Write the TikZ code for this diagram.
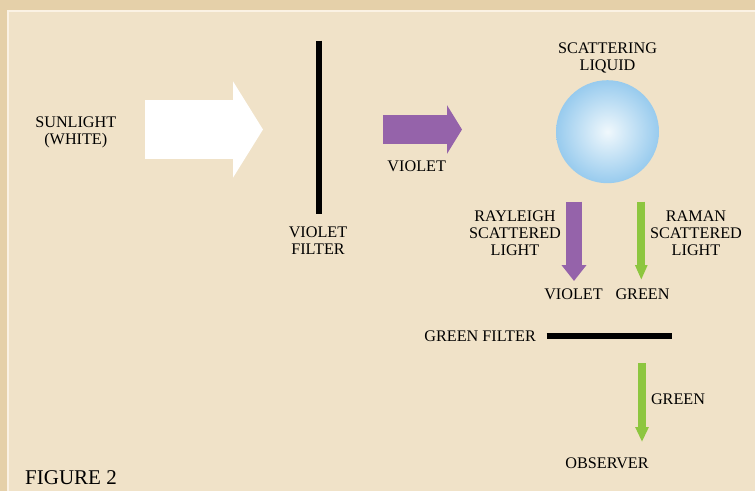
\documentclass[tikz,border=0pt]{standalone}
\usepackage{fontspec}
\setmainfont{Liberation Serif}
\usetikzlibrary{positioning, arrows.meta, calc}
\definecolor{frameTan}{RGB}{229,208,169}
\definecolor{paperTan}{RGB}{240,226,200}
\definecolor{paperEdge}{RGB}{251,242,228}
\definecolor{violetBeam}{RGB}{149,99,170}
\definecolor{greenBeam}{RGB}{141,198,63}
\definecolor{liquidEdge}{RGB}{152,203,238}
\definecolor{liquidCore}{RGB}{240,248,252}
\tikzset{lbl/.style={align=center, inner sep=0pt, text=black, font=\fontsize{16.2}{17}\selectfont}}
\tikzset{filterbar/.style={draw=black, line cap=butt}}
\tikzset{beam/.style args={#1|#2|#3|#4}{draw=#1, line width=#2, line cap=butt, -{Triangle[width=#3, length=#4]}, #1}}
\begin{document}
\begin{tikzpicture}[x=1pt, y=-1pt]
			\useasboundingbox (0,0) rectangle (755,491);
			\fill[frameTan] (0,0) rectangle (755,491);
			\fill[paperTan] (8,11) rectangle (755,491);
			\draw[paperEdge, line width=1.6] (8,491) -- (8,11) -- (755,11);

			% light source
			\node[lbl] (sun) at (75.8,132.5) {SUNLIGHT\\(WHITE)};
			\coordinate (sunA) at (145,129.5);
			\coordinate (sunB) at (263,129.5);
			\draw[beam={white|58.5pt|95pt|30pt}] (sunA) -- (sunB);

			% violet filter
			\coordinate (vfTop) at (318.5,40.7);
			\coordinate (vfBot) at (318.5,214);
			\draw[filterbar, line width=6] (vfTop) -- (vfBot);
			\node[lbl] (vfLab) at (318,240.5) {VIOLET\\FILTER};

			\coordinate (vioA) at (383,129.5);
			\coordinate (vioB) at (462,129.5);
			\draw[beam={violetBeam|29pt|48pt|15pt}] (vioA) -- (vioB);
			\node[lbl] (vioLab) at (416.7,166) {VIOLET};

			% liquid
			\shade[inner color=liquidCore, outer color=liquidEdge] (607.5,131.7) circle (51.5);
			\node[lbl] (liqLab) at (607.5,58) {SCATTERING\\LIQUID};

			% scattered light
			\coordinate (rayA) at (574,201.7);
			\coordinate (rayB) at (574,281);
			\draw[beam={violetBeam|15.7pt|24pt|16pt}] (rayA) -- (rayB);
			\node[lbl] (rayLab) at (515,233.5) {RAYLEIGH\\SCATTERED\\LIGHT};
			\node[lbl] (rayOut) at (573.5,294.5) {VIOLET};

			\coordinate (ramA) at (641.3,201.7);
			\coordinate (ramB) at (641.3,280);
			\draw[beam={greenBeam|8pt|11.5pt|15pt}] (ramA) -- (ramB);
			\node[lbl] (ramLab) at (696,233.5) {RAMAN\\SCATTERED\\LIGHT};
			\node[lbl] (ramOut) at (642.5,294.5) {GREEN};

			% green filter
			\coordinate (gfL) at (546.7,336);
			\coordinate (gfR) at (671.7,336);
			\draw[filterbar, line width=5.7] (gfL) -- (gfR);
			\node[lbl, anchor=east] (gfLab) at (536,336) {GREEN FILTER};

			\coordinate (obsA) at (642,363);
			\coordinate (obsB) at (642,442);
			\draw[beam={greenBeam|7.7pt|12.6pt|15pt}] (obsA) -- (obsB);
			\node[lbl] (obsGreen) at (678,399) {GREEN};
			\node[lbl] (obs) at (607,463) {OBSERVER};

			\node[lbl, anchor=west, font=\fontsize{21}{22}\selectfont] (fig) at (25,477.5) {FIGURE 2};
		\end{tikzpicture}
\end{document}
